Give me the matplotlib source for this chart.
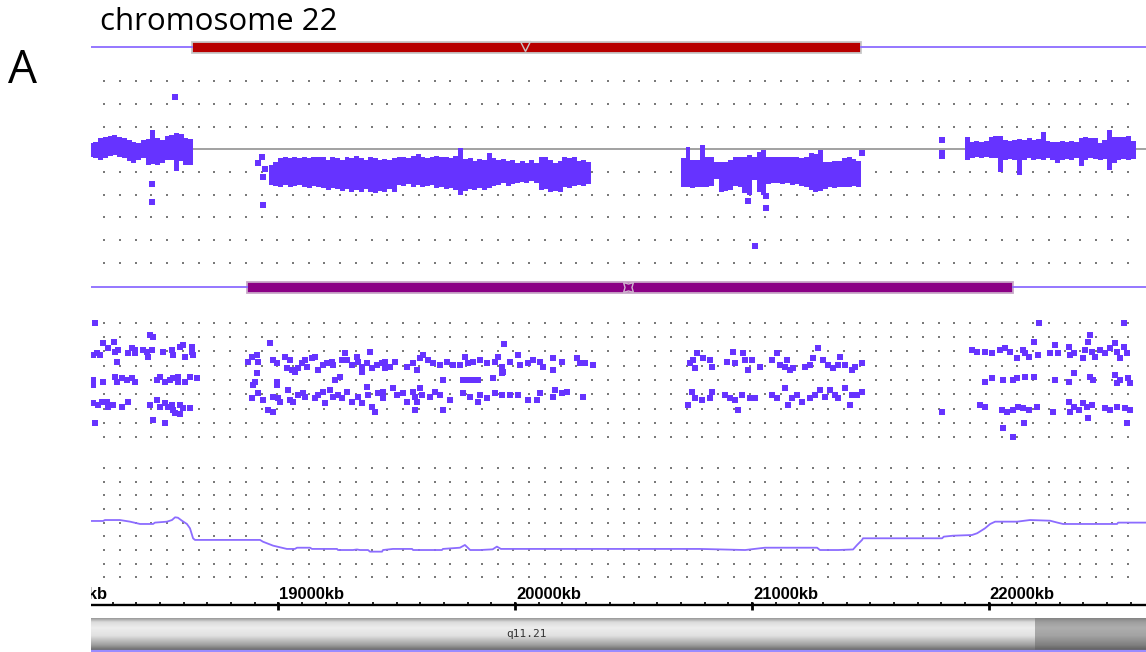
import numpy as np
import matplotlib.pyplot as plt
from matplotlib.patches import Rectangle

W, H = 1146, 652
X0, X1 = 18209, 22664          # kb shown across the tracks

# ---- CNV calls (kb)
loss_call = (18635, 21461)
loss_mark = 20042
loh_call = (18868, 22102)
loh_mark = 20477

# ---- log R ratio: cloud envelope, 20 kb bins per segment
lrr_seg1_start = 18210
lrr_seg1_hi = [0.07, 0.08, 0.12, 0.14, 0.15, 0.16, 0.14, 0.12, 0.10, 0.08, 0.07,
               0.10, 0.11, 0.21, 0.12, 0.10, 0.15, 0.16, 0.18, 0.17, 0.12, 0.11]
lrr_seg1_lo = [-0.09, -0.10, -0.12, -0.10, -0.07, -0.06, -0.08, -0.10, -0.13, -0.15, -0.12,
               -0.10, -0.17, -0.16, -0.17, -0.15, -0.12, -0.12, -0.24, -0.13, -0.17, -0.17]

lrr_seg2_start = 18970
lrr_seg2_hi = [-0.17, -0.14, -0.10, -0.09, -0.10, -0.09, -0.10, -0.08, -0.10, -0.09,
               -0.08, -0.09, -0.12, -0.09, -0.10, -0.12, -0.09, -0.10, -0.07, -0.10,
               -0.12, -0.09, -0.10, -0.12, -0.11, -0.12, -0.10, -0.085, -0.09, -0.10,
               -0.07, -0.05, -0.08, -0.10, -0.09, -0.07, -0.09, -0.08, -0.10, -0.07,
               0.01, -0.11, -0.10, -0.13, -0.11, -0.12, -0.04, -0.10, -0.12, -0.11,
               -0.13, -0.12, -0.15, -0.13, -0.15, -0.12, -0.15, -0.09, -0.08, -0.12,
               -0.15, -0.13, -0.09, -0.10, -0.09, -0.13, -0.12, -0.14]
lrr_seg2_lo = [-0.39, -0.40, -0.42, -0.39, -0.41, -0.40, -0.39, -0.42, -0.43, -0.40,
               -0.42, -0.43, -0.45, -0.43, -0.44, -0.46, -0.44, -0.47, -0.45, -0.47,
               -0.44, -0.47, -0.48, -0.46, -0.47, -0.44, -0.47, -0.39, -0.40, -0.38,
               -0.41, -0.39, -0.42, -0.40, -0.39, -0.43, -0.42, -0.44, -0.43, -0.45,
               -0.50, -0.46, -0.44, -0.45, -0.43, -0.45, -0.43, -0.40, -0.39, -0.37,
               -0.40, -0.38, -0.37, -0.36, -0.37, -0.35, -0.37, -0.45, -0.44, -0.47,
               -0.46, -0.47, -0.41, -0.43, -0.40, -0.39, -0.40, -0.38]

lrr_seg3_start = 20710
lrr_seg3_hi = [-0.10, 0.03, -0.12, -0.12, 0.05, -0.09, -0.09, -0.14, -0.14, -0.14,
               -0.12, -0.085, -0.085, -0.085, -0.06, -0.08, -0.03, -0.01, -0.08, -0.085,
               -0.085, -0.09, -0.085, -0.08, -0.085, -0.10, -0.09, -0.04, -0.05, -0.01,
               -0.14, -0.14, -0.13, -0.13, -0.10, -0.08, -0.11, -0.13]
lrr_seg3_lo = [-0.41, -0.41, -0.43, -0.41, -0.41, -0.41, -0.40, -0.33, -0.47, -0.46,
               -0.45, -0.40, -0.41, -0.48, -0.50, -0.34, -0.47, -0.50, -0.38, -0.37,
               -0.37, -0.38, -0.37, -0.39, -0.38, -0.40, -0.42, -0.45, -0.47, -0.46,
               -0.44, -0.42, -0.43, -0.41, -0.42, -0.41, -0.40, -0.41]

lrr_seg4_start = 21910
lrr_seg4_hi = [0.14, 0.08, 0.09, 0.08, 0.09, 0.14, 0.15, 0.15, 0.10, 0.09, 0.10, 0.11,
               0.10, 0.12, 0.10, 0.11, 0.19, 0.09, 0.08, 0.08, 0.09, 0.08, 0.09, 0.08,
               0.12, 0.13, 0.12, 0.12, 0.07, 0.10, 0.21, 0.13, 0.14, 0.14, 0.15, 0.09]
lrr_seg4_lo = [-0.12, -0.10, -0.09, -0.10, -0.09, -0.10, -0.10, -0.25, -0.12, -0.11, -0.12, -0.28,
               -0.12, -0.10, -0.12, -0.11, -0.12, -0.10, -0.12, -0.15, -0.12, -0.11, -0.12, -0.10,
               -0.18, -0.12, -0.10, -0.11, -0.12, -0.11, -0.23, -0.15, -0.12, -0.11, -0.12, -0.11]

lrr_out_kb = [18564, 18467, 18467, 18916, 18930, 18937, 18944, 18937,
              20982, 21059, 21059, 21013, 21464, 21801, 21801, 21801]
lrr_out_val = [0.576, -0.385, -0.577, -0.15, -0.08, -0.30, -0.22, -0.61,
               -0.566, -0.51, -0.65, -1.07, -0.04, 0.10, -0.07, -0.04]

# ---- B allele frequency probes (kb, BAF)
baf_kb = [
    18226, 18261, 18233, 18219, 18247, 18282, 18307, 18310, 18324, 18367, 18381, 18395, 18395,
    18430, 18444, 18451, 18465, 18458, 18472, 18514, 18550, 18557, 18585, 18599, 18606, 18634,
    18634, 18641, 18317,
    18219, 18219, 18261, 18310, 18317, 18339, 18360, 18381, 18395, 18486, 18500, 18522, 18543,
    18557, 18578, 18578, 18606, 18627, 18655,
    18219, 18240, 18254, 18275, 18282, 18303, 18339, 18367, 18458, 18486, 18500, 18522, 18535,
    18550, 18557, 18564, 18585, 18599, 18627, 18522, 18472, 18226, 18585,
    18965, 18873, 18888, 18909, 18916, 18979, 18993, 19028, 19035, 19049, 19057, 19070, 19084,
    19099, 19113, 19120, 19141, 19155, 19169, 19190, 19204, 19225, 19232, 19268, 19282, 19289,
    19310, 19331, 19338, 19352, 19352, 19373, 19387, 19394, 19416, 19437, 19451,
    18909, 18902, 18895, 18993, 18993, 19240, 19261,
    18888, 18916, 18937, 18958, 18979, 19000, 19007, 19042, 19049, 19063, 19084, 19106, 19113,
    19155, 19169, 19190, 19197, 19218, 19232, 19254, 19268, 19289, 19310, 19338, 19352, 19373,
    19380, 19394, 19409, 19423, 19444, 18979,
    19450, 19471, 19493, 19542, 19570, 19584, 19598, 19612, 19633, 19655, 19683, 19711, 19739,
    19767, 19788, 19803, 19823, 19851, 19880, 19915, 19929, 19943, 19950, 19953, 19978, 20014,
    20021, 20056, 20077, 20105, 20119, 20161, 20161, 20196, 20260, 20274, 20295, 20330,
    19697, 19781, 19803, 19823, 19845, 19908, 19943,
    19443, 19486, 19500, 19528, 19542, 19570, 19577, 19584, 19598, 19605, 19641, 19662, 19683,
    19725, 19781, 19810, 19845, 19851, 19880, 19915, 19943, 19978, 20014, 20056, 20091, 20105,
    20168, 20161, 20196, 20218, 20288, 19577, 19697,
    20738, 20753, 20760, 20767, 20795, 20823, 20830, 20893, 20922, 20929, 20964, 20971, 20985,
    20999, 21034, 21083, 21105, 21119, 21140, 21147, 21161, 21175, 21224, 21245, 21259, 21281,
    21302, 21323, 21344, 21365, 21372, 21393, 21421, 21435, 21464,
    20731, 20746, 20760, 20788, 20823, 20830, 20886, 20907, 20929, 20943, 20957, 20992, 21013,
    21083, 21105, 21140, 21154, 21168, 21189, 21210, 21245, 21266, 21288, 21309, 21330, 21351,
    21365, 21393, 21414, 21421, 21442, 21464, 21802,
    21928, 21949, 21985, 22013, 22048, 22069, 22090, 22118, 22146, 22154, 22168, 22189, 22210,
    22259, 22280, 22294, 22337, 22344, 22358, 22400, 22407, 22421, 22428, 22435, 22449, 22470,
    22491, 22513, 22534, 22541, 22555, 22569, 22583, 22214, 22572,
    21985, 22013, 22062, 22104, 22118, 22154, 22189, 22280, 22337, 22358, 22428, 22442, 22534,
    22541, 22555, 22590, 22597,
    21963, 21985, 22055, 22076, 22104, 22125, 22146, 22168, 22203, 22273, 22337, 22344, 22358,
    22379, 22400, 22414, 22421, 22435, 22491, 22513, 22541, 22576, 22597, 22059, 22101, 22149,
    22583]
baf_val = [
    1.0, 0.82, 0.733, 0.718, 0.718, 0.777, 0.83, 0.747, 0.762, 0.733, 0.777, 0.762, 0.733,
    0.762, 0.747, 0.703, 0.762, 0.893, 0.878, 0.747, 0.762, 0.718, 0.79, 0.805, 0.703, 0.79,
    0.747, 0.718, 0.66,
    0.5, 0.456, 0.485, 0.529, 0.485, 0.515, 0.5, 0.515, 0.485, 0.5, 0.529, 0.485, 0.5,
    0.515, 0.529, 0.485, 0.485, 0.529, 0.515,
    0.297, 0.282, 0.31, 0.31, 0.267, 0.282, 0.267, 0.31, 0.282, 0.325, 0.267, 0.297, 0.267,
    0.282, 0.238, 0.209, 0.282, 0.253, 0.253, 0.122, 0.151, 0.122, 0.203,
    0.82, 0.66, 0.703, 0.718, 0.66, 0.674, 0.646, 0.703, 0.602, 0.674, 0.587, 0.572, 0.602,
    0.646, 0.674, 0.616, 0.689, 0.703, 0.587, 0.631, 0.646, 0.66, 0.631, 0.674, 0.733, 0.674,
    0.631, 0.703, 0.66, 0.616, 0.572, 0.646, 0.747, 0.602, 0.631, 0.646, 0.602,
    0.558, 0.485, 0.456, 0.485, 0.456, 0.5, 0.529,
    0.34, 0.384, 0.325, 0.238, 0.354, 0.34, 0.31, 0.413, 0.325, 0.31, 0.369, 0.384, 0.354,
    0.34, 0.369, 0.398, 0.297, 0.413, 0.354, 0.369, 0.34, 0.398, 0.31, 0.354, 0.297, 0.44,
    0.369, 0.267, 0.223, 0.384, 0.34, 0.223,
    0.66, 0.616, 0.66, 0.616, 0.646, 0.587, 0.689, 0.718, 0.674, 0.646, 0.631, 0.66, 0.631,
    0.631, 0.703, 0.646, 0.66, 0.674, 0.646, 0.66, 0.703, 0.616, 0.572, 0.815, 0.66, 0.718,
    0.631, 0.646, 0.674, 0.66, 0.616, 0.689, 0.587, 0.66, 0.689, 0.646, 0.646, 0.631,
    0.5, 0.5, 0.5, 0.5, 0.5, 0.515, 0.558,
    0.398, 0.427, 0.369, 0.384, 0.31, 0.398, 0.354, 0.31, 0.427, 0.369, 0.354, 0.398, 0.369,
    0.325, 0.384, 0.354, 0.31, 0.369, 0.34, 0.384, 0.369, 0.369, 0.369, 0.325, 0.325, 0.384,
    0.413, 0.354, 0.384, 0.398, 0.354, 0.238, 0.238,
    0.646, 0.674, 0.602, 0.733, 0.689, 0.674, 0.616, 0.66, 0.747, 0.646, 0.733, 0.674, 0.587,
    0.674, 0.616, 0.674, 0.733, 0.631, 0.616, 0.674, 0.587, 0.602, 0.616, 0.631, 0.689, 0.776,
    0.674, 0.631, 0.602, 0.631, 0.703, 0.631, 0.587, 0.616, 0.646,
    0.282, 0.398, 0.34, 0.325, 0.34, 0.398, 0.369, 0.34, 0.325, 0.238, 0.369, 0.34, 0.34,
    0.369, 0.34, 0.427, 0.282, 0.34, 0.369, 0.31, 0.34, 0.369, 0.413, 0.354, 0.413, 0.369,
    0.34, 0.427, 0.282, 0.369, 0.369, 0.398, 0.223,
    0.762, 0.747, 0.747, 0.733, 0.762, 0.776, 0.747, 0.689, 0.762, 0.733, 0.703, 0.835, 0.718,
    0.733, 0.805, 0.733, 0.79, 0.718, 0.733, 0.689, 0.762, 0.835, 0.893, 0.747, 0.703, 0.762,
    0.733, 0.776, 0.82, 0.747, 0.689, 0.79, 0.733, 1.0, 1.0,
    0.485, 0.515, 0.5, 0.5, 0.515, 0.529, 0.529, 0.5, 0.485, 0.558, 0.529, 0.5, 0.544,
    0.471, 0.5, 0.515, 0.471,
    0.282, 0.267, 0.238, 0.223, 0.238, 0.267, 0.253, 0.238, 0.267, 0.223, 0.31, 0.223, 0.267,
    0.238, 0.297, 0.267, 0.165, 0.282, 0.253, 0.238, 0.267, 0.253, 0.238, 0.078, 0.005, 0.122,
    0.122]

# ---- smoothed copy-number style line (row units, 0 = bottom row)
line_kb = [18209, 18260, 18268, 18331, 18374, 18416, 18471, 18479, 18530, 18551, 18564,
           18576, 18593, 18614, 18627, 18640, 18648, 18923, 18935, 18978, 19036, 19070,
           19079, 19134, 19142, 19248, 19252, 19315, 19332, 19345, 19379, 19387, 19438,
           19442, 19484, 19565, 19569, 19691, 19695, 19767, 19788, 19810, 19852, 19905,
           19923, 19940, 20781, 20971, 21055, 21085, 21275, 21287, 21364, 21427, 21444,
           21465, 21469, 21803, 21810, 21849, 21929, 21951, 21984, 22006, 22027, 22120,
           22174, 22259, 22290, 22314, 22542, 22546, 22664]
line_val = [4.13, 4.13, 4.20, 4.20, 4.08, 3.91, 3.91, 4.01, 4.08, 4.20, 4.40,
            4.37, 4.15, 3.91, 3.59, 2.86, 2.74, 2.74, 2.61, 2.32, 2.08, 2.08,
            2.17, 2.17, 2.08, 2.08, 2.00, 2.00, 2.04, 2.00, 2.00, 1.88, 1.88,
            2.00, 2.08, 2.08, 2.00, 2.00, 2.08, 2.17, 2.37, 2.00, 2.00, 2.05,
            2.25, 2.08, 2.08, 2.00, 2.17, 2.17, 2.17, 2.00, 2.00, 2.04, 2.37,
            2.74, 2.86, 2.86, 2.98, 3.05, 3.10, 3.23, 3.59, 3.91, 4.08, 4.08,
            4.20, 4.15, 4.01, 3.91, 3.91, 4.01, 4.01]

# ---- ruler and ideogram
ruler_major = [18000, 19000, 20000, 21000, 22000]
band_name = "q11.21"
band_dark_start = 22196

PT = '#6633ff'
LINE = '#8c6cff'
DOT = '#7a7a7a'


def track_axes(fig, top, bottom):
    ax = fig.add_axes([91 / W, 1 - bottom / H, (W - 91) / W, (bottom - top) / H])
    ax.set_xlim(X0, X1)
    ax.axis('off')
    return ax


def dotted_rows(ax, rows):
    xs = np.arange(18264, 22645, 66.5)
    for r in rows:
        ax.scatter(xs, np.full(len(xs), r), s=2.2, marker='s', color=DOT, lw=0)


fig = plt.figure(figsize=(W / 100, H / 100), dpi=100)

fig.text(100 / W, 1 - 30 / H, "chromosome 22", fontsize=22.5, family='Open Sans', va='baseline')
fig.text(8 / W, 1 - 83 / H, "A", fontsize=33, family='Open Sans', va='baseline')

# red call bar
ax = track_axes(fig, 36, 58)
ax.set_ylim(-1, 1)
ax.plot([X0, loss_call[0]], [0, 0], color=LINE, lw=1.3)
ax.plot([loss_call[1], X1], [0, 0], color=LINE, lw=1.3)
ax.add_patch(Rectangle((loss_call[0], -0.5), loss_call[1] - loss_call[0], 1.0,
                       facecolor='#b80000', edgecolor='#c8c8c8', lw=1.3))
ax.plot([loss_mark], [0.05], marker='v', ms=7, mfc='none', mec='#c8c8c8', mew=1.0)

# log R ratio
ax = track_axes(fig, 60.3, 271.9)
ax.set_ylim(-1.35, 0.98)
dotted_rows(ax, [0.75, 0.5, 0.25, -0.25, -0.5, -0.75, -1.0, -1.25])
ax.axhline(0, color='#9a9a9a', lw=1.3, zorder=1)
for start, hi, lo in [(lrr_seg1_start, lrr_seg1_hi, lrr_seg1_lo),
                      (lrr_seg2_start, lrr_seg2_hi, lrr_seg2_lo),
                      (lrr_seg3_start, lrr_seg3_hi, lrr_seg3_lo),
                      (lrr_seg4_start, lrr_seg4_hi, lrr_seg4_lo)]:
    xs = start + 20 * np.arange(len(hi))
    hi = np.array(hi)
    lo = np.array(lo)
    ax.bar(xs, hi - lo, bottom=lo, width=21, color=PT, lw=0, zorder=3)
ax.scatter(lrr_out_kb, lrr_out_val, s=15, marker='s', color=PT, lw=0, zorder=3)

# purple call bar
ax = track_axes(fig, 276, 298)
ax.set_ylim(-1, 1)
ax.plot([X0, loh_call[0]], [0, 0], color=LINE, lw=1.3)
ax.plot([loh_call[1], X1], [0, 0], color=LINE, lw=1.3)
ax.add_patch(Rectangle((loh_call[0], -0.5), loh_call[1] - loh_call[0], 1.0,
                       facecolor='#8b0085', edgecolor='#c8a8c8', lw=1.3))
ax.plot([loh_mark], [0], marker=(4, 1, 45), ms=10, mfc='#8b0085', mec='#d0b8d0', mew=1.0)

# B allele frequency
ax = track_axes(fig, 311.2, 448.8)
ax.set_ylim(-0.1, 1.1)
dotted_rows(ax, np.arange(0, 1.01, 0.125))
ax.scatter(baf_kb, baf_val, s=16, marker='s', color=PT, lw=0, zorder=3)

# smoothed line
ax = track_axes(fig, 461.4, 584.1)
ax.set_ylim(-0.5, 8.5)
dotted_rows(ax, np.arange(0, 9))
ax.plot(line_kb, line_val, color=LINE, lw=1.3, zorder=3)

# ruler
ax = track_axes(fig, 580, 612)
ax.set_ylim(-7, 25)
ax.plot([X0, X1], [0, 0], color='black', lw=1.7)
minor = np.arange(18000, 22700, 100)
ax.vlines(minor, 0, 3, color='black', lw=1.2)
ax.vlines(ruler_major, -5, 3.5, color='black', lw=2.0)
for t in ruler_major:
    ax.text(t + 4, 6, f"{t}kb", fontsize=12, fontweight='bold', family='Liberation Sans',
            ha='left', va='baseline', clip_on=True)

# ideogram
ax = track_axes(fig, 617, 652)
stops = [0, 0.12, 0.3, 0.55, 0.85, 1.0]
light = [0.60, 0.86, 0.93, 0.88, 0.62, 0.42]
dark = [0.52, 0.62, 0.68, 0.64, 0.50, 0.38]
yy = np.linspace(0, 1, 64)
g_light = np.interp(yy, stops, light)
g_dark = np.interp(yy, stops, dark)
ax.imshow(np.repeat(g_light[:, None], 2, axis=1), cmap='gray', vmin=0, vmax=1,
          extent=[X0, band_dark_start, 2, 34], aspect='auto', interpolation='bilinear')
ax.imshow(np.repeat(g_dark[:, None], 2, axis=1), cmap='gray', vmin=0, vmax=1,
          extent=[band_dark_start, X1, 2, 34], aspect='auto', interpolation='bilinear')
ax.set_xlim(X0, X1)
ax.set_ylim(0, 35)
ax.plot([X0, X1], [1.2, 1.2], color='#9a8cff', lw=1.6)
ax.text(20050, 18, band_name, fontsize=8, family='DejaVu Sans Mono', color='#333333',
        ha='center', va='center')

fig.savefig('out.png', dpi=100)
